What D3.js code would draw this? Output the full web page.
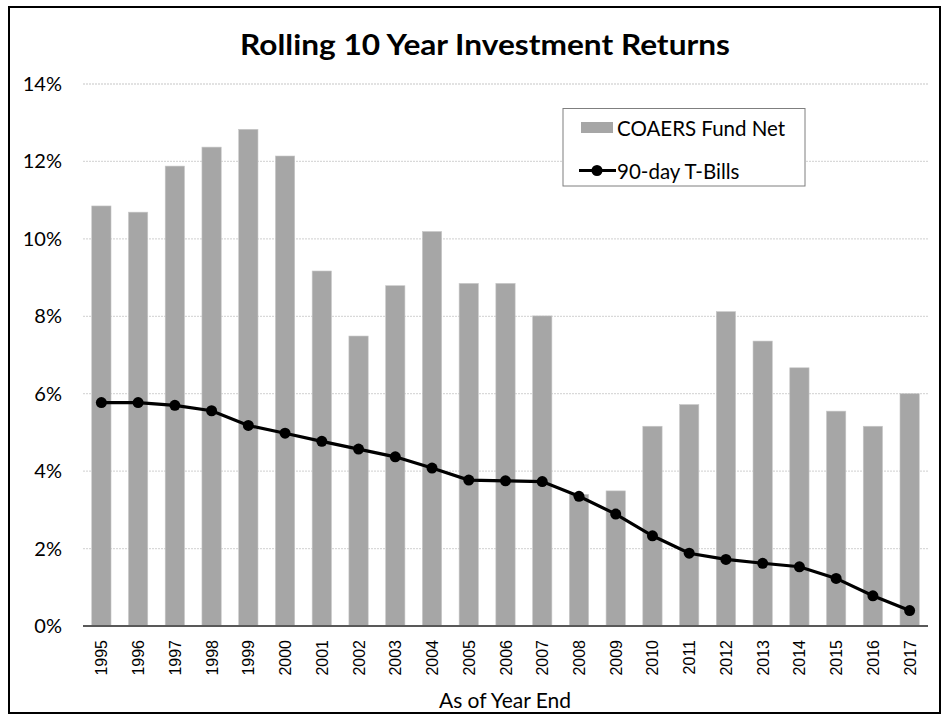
<!DOCTYPE html>
<html>
<head>
<meta charset="utf-8">
<script src="https://cdn.jsdelivr.net/npm/d3@7"></script>
<style>
    body { margin: 0; background: #fff; }
    text { font-family: Lato, "Open Sans", sans-serif; fill: #000; }
</style>
</head>
<body>
<div id="chart"></div>
<script>
// Chart data
const years = ["1995", "1996", "1997", "1998", "1999", "2000", "2001", "2002", "2003", "2004", "2005", "2006",
    "2007", "2008", "2009", "2010", "2011", "2012", "2013", "2014", "2015", "2016", "2017"];
const fundNet = [10.85, 10.69, 11.88, 12.37, 12.83, 12.14, 9.17, 7.49, 8.79, 10.19, 8.85, 8.85,
    8.01, 3.40, 3.49, 5.16, 5.72, 8.12, 7.36, 6.67, 5.55, 5.16, 6.00];
const tBills = [5.77, 5.77, 5.70, 5.56, 5.18, 4.98, 4.77, 4.57, 4.37, 4.08, 3.77, 3.75,
    3.73, 3.35, 2.89, 2.33, 1.88, 1.72, 1.62, 1.53, 1.23, 0.78, 0.40];
const yTicks = [0, 2, 4, 6, 8, 10, 12, 14];

const width = 948;
const height = 721;

const svg = d3.select("#chart")
    .append("svg")
    .attr("width", width)
    .attr("height", height);

// outer frame
svg.append("rect")
    .attr("x", 9).attr("y", 7)
    .attr("width", 931).attr("height", 706)
    .attr("fill", "none")
    .attr("stroke", "#000")
    .attr("stroke-width", 2);

const x = d3.scaleBand()
    .domain(years)
    .range([83, 928])
    .paddingInner(0.475)
    .paddingOuter(0.2375);

const y = d3.scaleLinear()
    .domain([0, 14])
    .range([626, 84]);

// gridlines
svg.append("g")
    .selectAll("line")
    .data(yTicks.filter((d) => d > 0))
    .enter()
    .append("line")
    .attr("x1", 83).attr("x2", 928)
    .attr("y1", (d) => y(d)).attr("y2", (d) => y(d))
    .attr("stroke", "#d9d9d9")
    .attr("stroke-width", 1.3)
    .attr("stroke-dasharray", "2,1");

// y labels
svg.append("g")
    .selectAll("text")
    .data(yTicks)
    .enter()
    .append("text")
    .attr("x", 62)
    .attr("y", (d) => y(d) + 7)
    .attr("text-anchor", "end")
    .style("font-size", "20px")
    .text((d) => d + "%");

// bars
svg.append("g")
    .selectAll("rect")
    .data(fundNet)
    .enter()
    .append("rect")
    .attr("x", (d, i) => x(years[i]))
    .attr("y", (d) => y(d))
    .attr("width", x.bandwidth())
    .attr("height", (d) => y(0) - y(d))
    .attr("fill", "#a6a6a6")
    .attr("stroke", "#c8c8c8")
    .attr("stroke-width", 0.6);

// x axis line
svg.append("line")
    .attr("x1", 83).attr("x2", 928)
    .attr("y1", y(0)).attr("y2", y(0))
    .attr("stroke", "#595959")
    .attr("stroke-width", 2);

// x labels, rotated
svg.append("g")
    .selectAll("text")
    .data(years)
    .enter()
    .append("text")
    .attr("transform", (d) => `translate(${x(d) + x.bandwidth() / 2 + 6},640) rotate(-90)`)
    .attr("text-anchor", "end")
    .style("font-family", "'Liberation Sans', Arial, sans-serif")
    .style("font-size", "16px")
    .text((d) => d);

// T-bill line
const line = d3.line()
    .x((d, i) => x(years[i]) + x.bandwidth() / 2)
    .y((d) => y(d));

svg.append("path")
    .datum(tBills)
    .attr("d", line)
    .attr("fill", "none")
    .attr("stroke", "#000")
    .attr("stroke-width", 3.2);

svg.append("g")
    .selectAll("circle")
    .data(tBills)
    .enter()
    .append("circle")
    .attr("cx", (d, i) => x(years[i]) + x.bandwidth() / 2)
    .attr("cy", (d) => y(d))
    .attr("r", 5.5)
    .attr("fill", "#000");

// title
svg.append("text")
    .attr("x", 485)
    .attr("y", 55)
    .attr("text-anchor", "middle")
    .attr("textLength", 490)
    .attr("lengthAdjust", "spacingAndGlyphs")
    .style("font-size", "28px")
    .style("font-weight", "bold")
    .text("Rolling 10 Year Investment Returns");

// axis title
svg.append("text")
    .attr("x", 505)
    .attr("y", 708)
    .attr("text-anchor", "middle")
    .style("font-size", "21px")
    .text("As of Year End");

// legend
const legend = svg.append("g");
legend.append("rect")
    .attr("x", 563).attr("y", 108.5)
    .attr("width", 242).attr("height", 77.5)
    .attr("fill", "#fff")
    .attr("stroke", "#7f7f7f")
    .attr("stroke-width", 1);
legend.append("rect")
    .attr("x", 581).attr("y", 122)
    .attr("width", 32).attr("height", 11)
    .attr("fill", "#a6a6a6");
legend.append("text")
    .attr("x", 617).attr("y", 136)
    .style("font-size", "20.5px")
    .text("COAERS Fund Net");
legend.append("line")
    .attr("x1", 579).attr("x2", 616)
    .attr("y1", 170.5).attr("y2", 170.5)
    .attr("stroke", "#000")
    .attr("stroke-width", 3.2);
legend.append("circle")
    .attr("cx", 597).attr("cy", 170.5)
    .attr("r", 5.5)
    .attr("fill", "#000");
legend.append("text")
    .attr("x", 617).attr("y", 178.5)
    .style("font-size", "20.5px")
    .text("90-day T-Bills");
</script>
</body>
</html>
